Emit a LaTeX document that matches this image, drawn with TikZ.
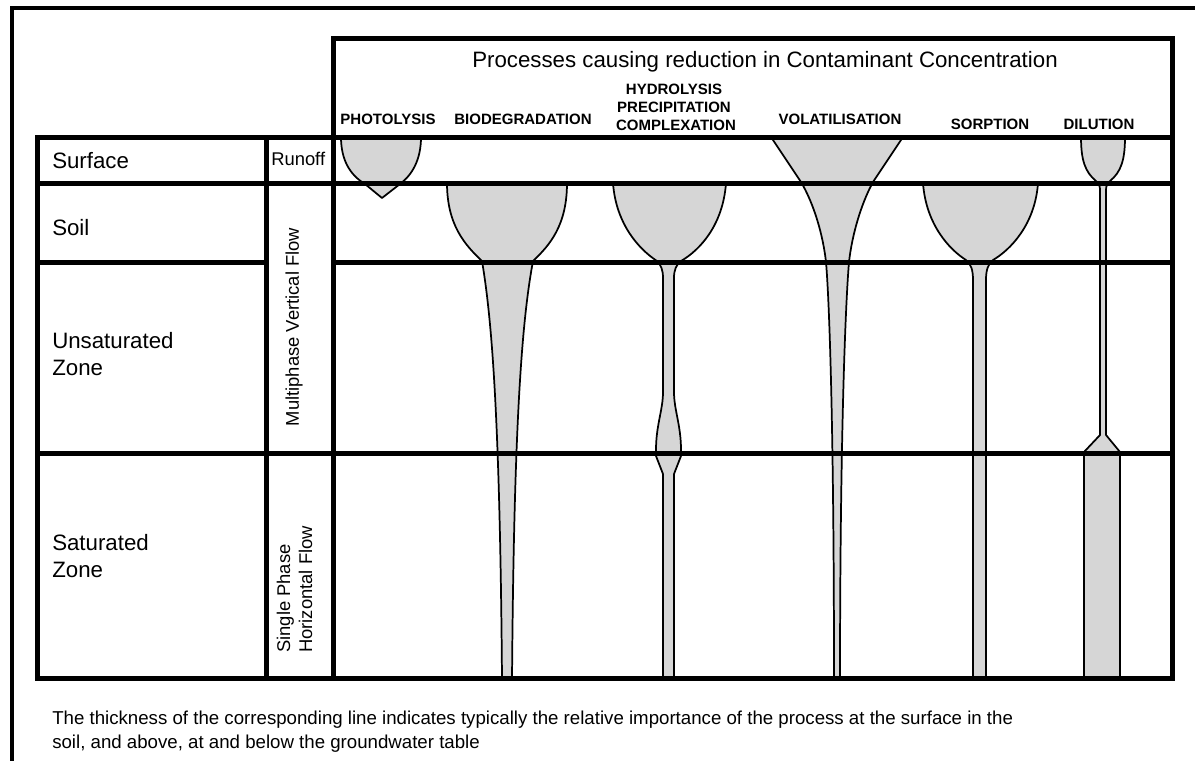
\documentclass[tikz,border=0pt]{standalone}
\usepackage{fontspec}
\setmainfont{Liberation Sans}
\begin{document}
\begin{tikzpicture}[x=0.75pt,y=-0.75pt,
  grid/.style={line width=3.75pt, line cap=rect},
  frame/.style={line width=3pt},
  proc/.style={fill=black!16, draw=black, line width=1.3pt, line join=round},
  zone/.style={anchor=base west, inner sep=0pt, font=\fontsize{16.7}{20}\selectfont},
  flow/.style={inner sep=0pt, font=\fontsize{13.8}{16.6}\selectfont},
  plabel/.style={anchor=base, inner sep=0pt, font=\fontsize{11.25}{13.5}\selectfont\bfseries},
  note/.style={anchor=base west, inner sep=0pt, font=\fontsize{14}{18}\selectfont}]
\useasboundingbox (0,0) rectangle (1195,760);

% ---- process profiles (drawn first, grid lines go over them) ----
% photolysis
\draw[proc] (341,137) .. controls (341,160) and (350,175) .. (365,184)
  -- (382,198) -- (400,184) .. controls (412,175) and (421,160) .. (421,137) -- cycle;
% biodegradation
\draw[proc] (447,183) .. controls (447,225) and (465,245) .. (482,261)
  .. controls (492,320) and (500,420) .. (502,680) -- (512,680)
  .. controls (514,420) and (522,320) .. (533,261)
  .. controls (550,245) and (567,225) .. (567,183) -- cycle;
% hydrolysis / precipitation / complexation
\draw[proc] (613,183) .. controls (616,225) and (640,250) .. (657,261)
  .. controls (661,265) and (663,270) .. (663,278) -- (663,392)
  .. controls (663,410) and (656,425) .. (656,450) -- (656,456) -- (663,474) -- (663,680)
  -- (674,680) -- (674,474) -- (681,456) -- (681,450)
  .. controls (681,425) and (674,410) .. (674,392) -- (674,278)
  .. controls (674,270) and (676,265) .. (681,261)
  .. controls (700,250) and (723,225) .. (726,183) -- cycle;
% volatilisation
\draw[proc] (771,137) -- (801,182) .. controls (814,204) and (823,235) .. (826,262)
  .. controls (830,310) and (834,450) .. (834,680) -- (840,680)
  .. controls (840,450) and (845,310) .. (849,262)
  .. controls (852,235) and (861,204) .. (873,182) -- (903,137) -- cycle;
% sorption
\draw[proc] (923,183) .. controls (926,225) and (950,250) .. (966,260)
  .. controls (971,264) and (973,270) .. (973,280) -- (973,680) -- (986,680) -- (986,280)
  .. controls (986,270) and (988,264) .. (993,260)
  .. controls (1010,250) and (1035,225) .. (1038,183) -- cycle;
% dilution
\draw[proc] (1081,137) .. controls (1081,160) and (1085,172) .. (1096,181)
  .. controls (1099,184) and (1100,186) .. (1100,190) -- (1100,435) -- (1084,452)
  -- (1084,680) -- (1120,680) -- (1120,452) -- (1106,435) -- (1106,190)
  .. controls (1106,186) and (1107,184) .. (1110,181)
  .. controls (1121,172) and (1125,160) .. (1125,137) -- cycle;

% ---- outer frame and header box ----
\draw[frame] (12,800) -- (12,8) -- (1230,8);
\draw[grid] (333,137) -- (333,38) -- (1172,38) -- (1172,137);

% ---- table grid ----
\draw[grid] (37,137) rectangle (1172,678);
\draw[grid] (37,183) -- (1172,183);
\draw[grid] (37,262) -- (266,262);
\draw[grid] (333,262) -- (1172,262);
\draw[grid] (37,453) -- (1172,453);
\draw[grid] (266,137) -- (266,678);
\draw[grid] (333,137) -- (333,678);

% ---- header texts ----
\node[anchor=base, inner sep=0pt, font=\fontsize{16.7}{20}\selectfont] (title) at (765,67)
  {Processes causing reduction in Contaminant Concentration};
\node[plabel] (photo) at (388,124) {PHOTOLYSIS};
\node[plabel] (bio) at (523,124) {BIODEGRADATION};
\node[plabel] (hyd1) at (674,94) {HYDROLYSIS};
\node[plabel] (hyd2) at (674,112) {PRECIPITATION};
\node[plabel] (hyd3) at (676,130) {COMPLEXATION};
\node[plabel] (vol) at (840,124) {VOLATILISATION};
\node[plabel] (sorp) at (990,129) {SORPTION};
\node[plabel] (dil) at (1099,129) {DILUTION};

% ---- zone labels ----
\node[zone] (surf) at (52,168) {Surface};
\node[zone] (soil) at (52,235) {Soil};
\node[zone] (unsat1) at (52,348) {Unsaturated};
\node[zone] (unsat2) at (52,375) {Zone};
\node[zone] (sat1) at (52,550) {Saturated};
\node[zone] (sat2) at (52,577) {Zone};

% ---- flow regime labels ----
\node[flow, anchor=base west] (runoff) at (271,165) {Runoff};
\node[flow, rotate=90] (multi) at (294,327) {Multiphase Vertical Flow};
\node[flow, rotate=90, anchor=west, align=left] (single) at (294.5,653)
  {Single Phase\\Horizontal Flow};

% ---- note ----
\node[note] (note1) at (52,724) {The thickness of the corresponding line indicates typically the relative importance of the process at the surface in the};
\node[note] (note2) at (52,748) {soil, and above, at and below the groundwater table};
\end{tikzpicture}
\end{document}
